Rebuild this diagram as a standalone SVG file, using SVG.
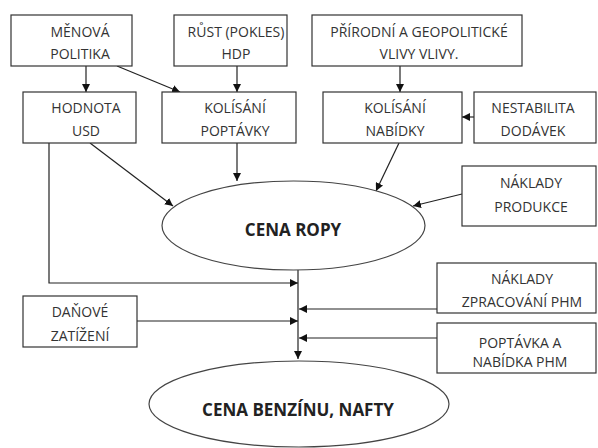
<svg xmlns="http://www.w3.org/2000/svg" width="598" height="448" viewBox="0 0 598 448">
<defs>
<marker id="ah" markerUnits="userSpaceOnUse" markerWidth="9" markerHeight="8" refX="8" refY="4" orient="auto">
<path d="M0,0 L8,4 L0,8 Z" fill="#111"/>
</marker>
<style>
.box{fill:#fff;stroke:#333;stroke-width:1.2}
.ell{fill:#fff;stroke:#444;stroke-width:1.2}
.t{font-family:"Open Sans","Liberation Sans",sans-serif;font-size:14px;fill:#333;text-anchor:middle}
.b{font-family:"Open Sans","Liberation Sans",sans-serif;font-size:17px;font-weight:bold;fill:#222;text-anchor:middle}
.ca{fill:none;stroke:#222;stroke-width:1.2;marker-end:url(#ah)}
</style>
</defs>
<rect width="598" height="448" fill="#fff"/>
<g id="connectors">
<line class="ca" x1="86" y1="66" x2="86" y2="92"/>
<line class="ca" x1="117" y1="66" x2="180" y2="92"/>
<line class="ca" x1="237" y1="66" x2="237" y2="92"/>
<line class="ca" x1="400" y1="66" x2="400" y2="92"/>
<line class="ca" x1="474" y1="117" x2="462" y2="117"/>
<line class="ca" x1="90" y1="143" x2="173" y2="206"/>
<line class="ca" x1="237" y1="143" x2="237" y2="181"/>
<line class="ca" x1="399" y1="143" x2="376" y2="191"/>
<line class="ca" x1="462" y1="194" x2="413" y2="206"/>
<polyline class="ca" points="49,143 49,283 298,283"/>
<line class="ca" x1="298" y1="270" x2="298" y2="359"/>
<line class="ca" x1="437" y1="309" x2="299" y2="309"/>
<line class="ca" x1="137" y1="321" x2="298" y2="321"/>
<line class="ca" x1="437" y1="338" x2="299" y2="338"/>
</g>
<g id="menova-politika"><rect class="box" x="11" y="15" width="121" height="51"/><text class="t" x="80" y="37">MĚNOVÁ</text><text class="t" x="80" y="59">POLITIKA</text></g>
<g id="rust-hdp"><rect class="box" x="174" y="15" width="113" height="51"/><text class="t" x="236" y="37">RŮST (POKLES)</text><text class="t" x="236" y="59">HDP</text></g>
<g id="prirodni-vlivy"><rect class="box" x="312" y="15" width="210" height="51"/><text class="t" x="419" y="37">PŘÍRODNÍ A GEOPOLITICKÉ</text><text class="t" x="419" y="59">VLIVY VLIVY.</text></g>
<g id="hodnota-usd"><rect class="box" x="23" y="92" width="113" height="51"/><text class="t" x="86" y="113">HODNOTA</text><text class="t" x="86" y="136">USD</text></g>
<g id="kolisani-poptavky"><rect class="box" x="162" y="92" width="134" height="51"/><text class="t" x="235" y="113">KOLÍSÁNÍ</text><text class="t" x="235" y="136">POPTÁVKY</text></g>
<g id="kolisani-nabidky"><rect class="box" x="323" y="92" width="139" height="51"/><text class="t" x="395" y="113">KOLÍSÁNÍ</text><text class="t" x="395" y="136">NABÍDKY</text></g>
<g id="nestabilita-dodavek"><rect class="box" x="474" y="92" width="122" height="51"/><text class="t" x="533" y="113">NESTABILITA</text><text class="t" x="533" y="136">DODÁVEK</text></g>
<g id="naklady-produkce"><rect class="box" x="462" y="166" width="134" height="60"/><text class="t" x="531" y="188">NÁKLADY</text><text class="t" x="531" y="212">PRODUKCE</text></g>
<g id="cena-ropy"><ellipse class="ell" cx="293.5" cy="225.5" rx="131.5" ry="44.5"/><text class="b" x="293" y="236">CENA ROPY</text></g>
<g id="danove-zatizeni"><rect class="box" x="23" y="296" width="114" height="51"/><text class="t" x="80" y="317">DAŇOVÉ</text><text class="t" x="80" y="341">ZATÍŽENÍ</text></g>
<g id="naklady-zpracovani"><rect class="box" x="437" y="263" width="159" height="50"/><text class="t" x="522" y="284">NÁKLADY</text><text class="t" x="522" y="307">ZPRACOVÁNÍ PHM</text></g>
<g id="poptavka-nabidka-phm"><rect class="box" x="437" y="323" width="159" height="50"/><text class="t" x="520" y="348">POPTÁVKA A</text><text class="t" x="520" y="367">NABÍDKA PHM</text></g>
<g id="cena-benzinu"><ellipse class="ell" cx="299" cy="404" rx="150" ry="43"/><text class="b" x="298" y="416">CENA BENZÍNU, NAFTY</text></g>
</svg>
